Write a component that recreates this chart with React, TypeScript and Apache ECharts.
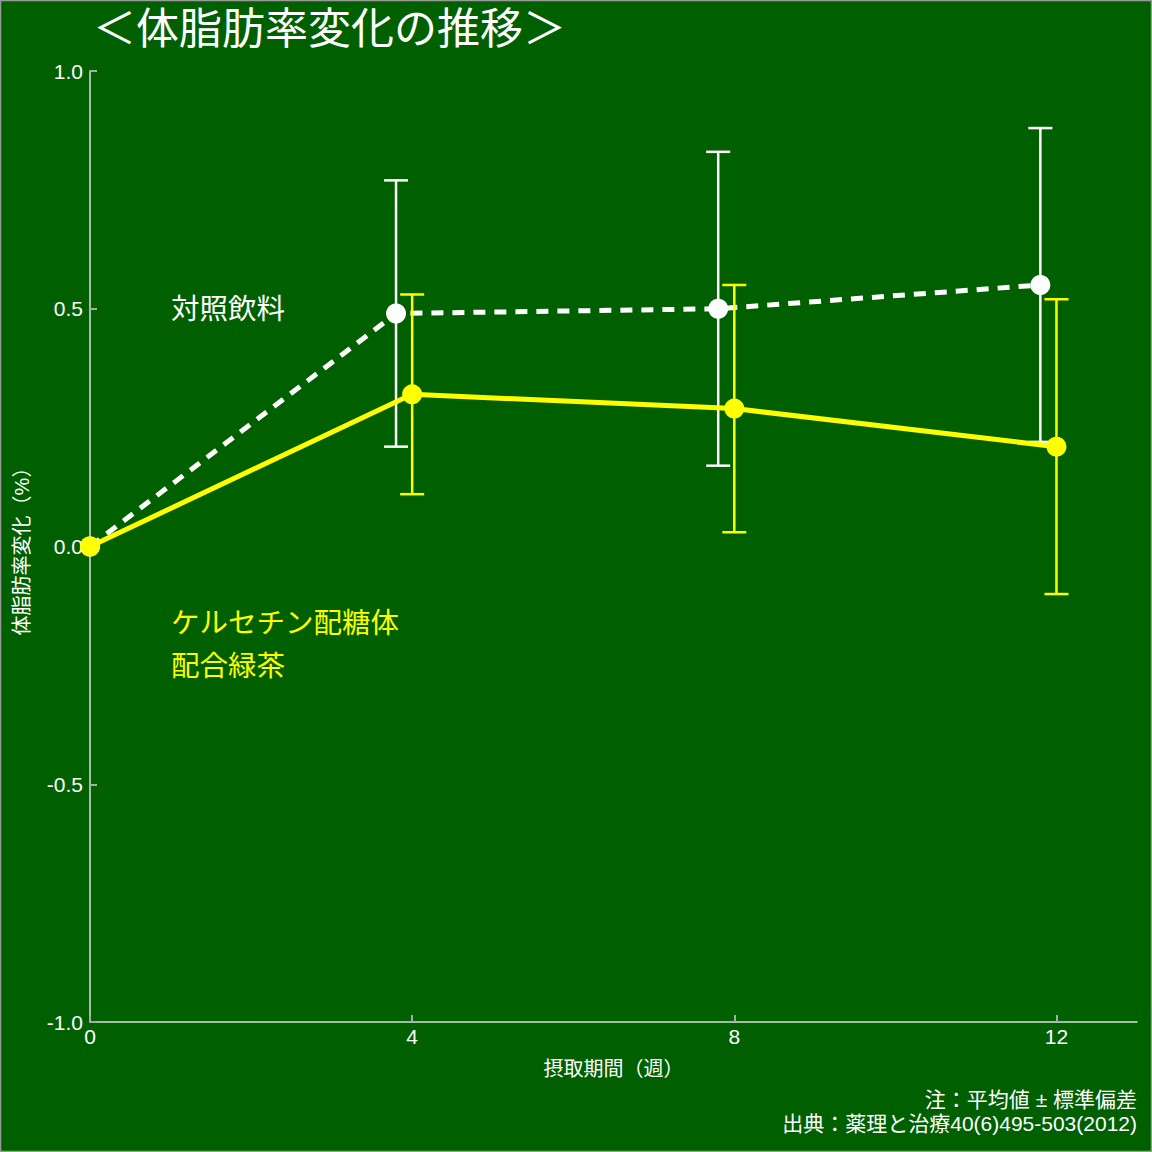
import React, { useEffect, useRef } from "react";
import * as echarts from "echarts";

const weeksControl = [0, 3.8, 7.8, 11.8];
const valuesControl = [0, 0.49, 0.5, 0.55];
const errLowControl = [null, 0.21, 0.17, 0.22];
const errHighControl = [null, 0.77, 0.83, 0.88];

const weeksTea = [0, 4, 8, 12];
const valuesTea = [0, 0.32, 0.29, 0.21];
const errLowTea = [null, 0.11, 0.03, -0.1];
const errHighTea = [null, 0.53, 0.55, 0.52];

const xTicks = [0, 4, 8, 12];

const FONT = "'Liberation Sans', 'Noto Sans CJK JP', sans-serif";
const BG = "#006000";

function errData(xs: number[], lo: (number | null)[], hi: (number | null)[]) {
  const out: number[][] = [];
  xs.forEach((x, i) => {
    if (lo[i] != null && hi[i] != null) out.push([x, lo[i] as number, hi[i] as number]);
  });
  return out;
}

function makeErr(color: string) {
  return (params: any, api: any) => {
    const x = api.value(0);
    const lo = api.coord([x, api.value(1)]);
    const hi = api.coord([x, api.value(2)]);
    const hw = 12;
    const style = { stroke: color, lineWidth: 2.5 };
    return {
      type: "group",
      children: [
        { type: "line", shape: { x1: lo[0], y1: lo[1], x2: hi[0], y2: hi[1] }, style },
        { type: "line", shape: { x1: lo[0] - hw, y1: lo[1], x2: lo[0] + hw, y2: lo[1] }, style },
        { type: "line", shape: { x1: hi[0] - hw, y1: hi[1], x2: hi[0] + hw, y2: hi[1] }, style },
      ],
    };
  };
}

export default function App() {
  const ref = useRef<HTMLDivElement>(null);
  useEffect(() => {
    document.body.style.margin = "0";
    const chart = echarts.init(ref.current!, null, { renderer: "svg" });
    chart.setOption({
      animation: false,
      backgroundColor: BG,
      textStyle: { fontFamily: FONT },
      grid: { left: 90, right: 15, top: 71, bottom: 130, containLabel: false },
      xAxis: {
        type: "value",
        min: 0,
        max: 13,
        interval: 4,
        name: "摂取期間（週）",
        nameLocation: "middle",
        nameGap: 37,
        nameTextStyle: { color: "#ffffff", fontSize: 20, fontFamily: FONT },
        axisLine: { show: true, onZero: false, lineStyle: { color: "#dddddd", width: 1.5 } },
        axisTick: { show: true, inside: true, length: 7, customValues: xTicks, lineStyle: { color: "#aaaaaa", width: 2 } },
        axisLabel: { color: "#ffffff", fontSize: 21, margin: 4, customValues: xTicks, fontFamily: FONT },
        splitLine: { show: false },
      },
      yAxis: {
        type: "value",
        min: -1,
        max: 1,
        interval: 0.5,
        name: "体脂肪率変化（%）",
        nameLocation: "middle",
        nameGap: 58,
        nameRotate: 90,
        nameTextStyle: { color: "#ffffff", fontSize: 20, fontFamily: FONT },
        axisLine: { show: true, onZero: false, lineStyle: { color: "#dddddd", width: 1.5 } },
        axisTick: { show: true, inside: true, length: 7, lineStyle: { color: "#aaaaaa", width: 2 } },
        axisLabel: {
          color: "#ffffff",
          fontSize: 21,
          margin: 7,
          fontFamily: FONT,
          formatter: (v: number) => v.toFixed(1),
        },
        splitLine: { show: false },
      },
      graphic: [
        {
          type: "rect",
          shape: { x: 0.5, y: 0.5, width: 1151, height: 1151 },
          style: { fill: "none", stroke: "#9a9a9a", lineWidth: 1.5 },
          silent: true,
        },
        {
          type: "text",
          left: 93,
          top: 7,
          style: { text: "＜体脂肪率変化の推移＞", fill: "#ffffff", fontSize: 43, fontFamily: FONT },
        },
        {
          type: "text",
          left: 171,
          top: 295,
          style: { text: "対照飲料", fill: "#ffffff", fontSize: 28.5, fontFamily: FONT },
        },
        {
          type: "text",
          left: 171,
          top: 601,
          style: { text: "ケルセチン配糖体\n配合緑茶", fill: "#ffff00", fontSize: 28.5, lineHeight: 43, fontFamily: FONT },
        },
        {
          type: "text",
          right: 15,
          top: 1089,
          style: { text: "注：平均値 ± 標準偏差", fill: "#ffffff", fontSize: 21, fontFamily: FONT },
        },
        {
          type: "text",
          right: 15,
          top: 1113,
          style: { text: "出典：薬理と治療40(6)495-503(2012)", fill: "#ffffff", fontSize: 21, fontFamily: FONT },
        },
      ],
      series: [
        {
          type: "custom",
          name: "対照飲料誤差",
          renderItem: makeErr("#ffffff"),
          data: errData(weeksControl, errLowControl, errHighControl),
          z: 2,
          silent: true,
        },
        {
          type: "line",
          name: "対照飲料",
          data: weeksControl.map((x, i) => [x, valuesControl[i]]),
          symbol: "circle",
          symbolSize: 20,
          itemStyle: { color: "#ffffff" },
          lineStyle: { color: "#ffffff", width: 5, type: [12, 9] },
          z: 3,
        },
        {
          type: "custom",
          name: "緑茶誤差",
          renderItem: makeErr("#ffff00"),
          data: errData(weeksTea, errLowTea, errHighTea),
          z: 4,
          silent: true,
        },
        {
          type: "line",
          name: "ケルセチン配糖体配合緑茶",
          data: weeksTea.map((x, i) => [x, valuesTea[i]]),
          symbol: "circle",
          symbolSize: 20,
          itemStyle: { color: "#ffff00" },
          lineStyle: { color: "#ffff00", width: 5 },
          z: 5,
        },
      ],
    });
    return () => chart.dispose();
  }, []);
  return <div ref={ref} style={{ position: "fixed", left: 0, top: 0, width: 1152, height: 1152 }} />;
}
